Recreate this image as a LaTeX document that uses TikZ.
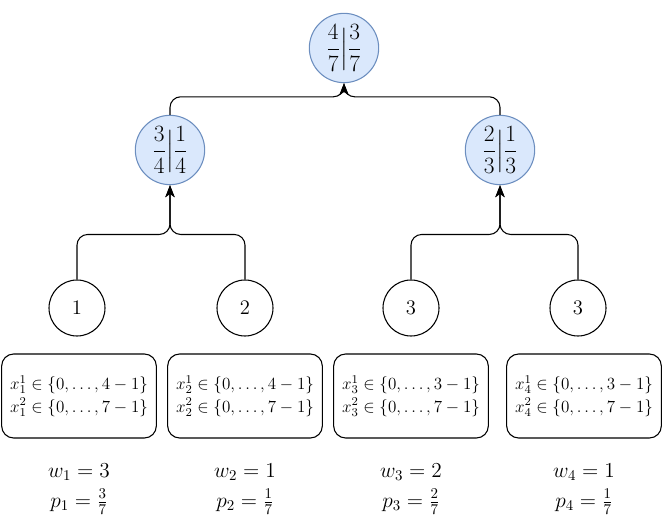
\RequirePackage{fix-cm}
\documentclass[tikz,border=0pt]{standalone}
\usepackage{amsmath}
\usetikzlibrary{arrows.meta}

\definecolor{nodefill}{HTML}{DAE8FC}
\definecolor{nodeline}{HTML}{6C8EBF}

\tikzset{
  every node/.style={font=\fontsize{16}{19}\selectfont},
  ratio/.style={circle, draw=nodeline, fill=nodefill, thick, minimum size=52pt, inner sep=0pt,
    font=\fontsize{17.5}{20}\selectfont},
  leaf/.style={circle, draw, thick, minimum size=42pt, inner sep=0pt, font=\fontsize{15.5}{18}\selectfont},
  varbox/.style={draw, thick, rounded corners=9pt, minimum width=116pt, minimum height=63pt, align=left,
    font=\fontsize{12.8}{16.8}\selectfont},
  link/.style={thick, rounded corners=8pt, -{Stealth[length=9pt, width=7pt, inset=2.5pt]}},
}

\begin{document}
\begin{tikzpicture}[x=0.75pt, y=-0.75pt]
\useasboundingbox (0,0) rectangle (664,531);

% tree of ratios
\node[ratio] (root) at (344,48)  {$\dfrac{4}{7}\Big|\dfrac{3}{7}$};
\node[ratio] (midL) at (170,150) {$\dfrac{3}{4}\Big|\dfrac{1}{4}$};
\node[ratio] (midR) at (500,150) {$\dfrac{2}{3}\Big|\dfrac{1}{3}$};

\node[leaf] (leafA) at (77,308)  {$1$};
\node[leaf] (leafB) at (245,308) {$2$};
\node[leaf] (leafC) at (411,308) {$3$};
\node[leaf] (leafD) at (578,308) {$3$};

\draw[link] (midL.north)  -- ++(0,-18) -| (root.south);
\draw[link] (midR.north)  -- ++(0,-18) -| (root.south);
\draw[link] (leafA.north) -- ++(0,-45) -| (midL.south);
\draw[link] (leafB.north) -- ++(0,-45) -| (midL.south);
\draw[link] (leafC.north) -- ++(0,-45) -| (midR.south);
\draw[link] (leafD.north) -- ++(0,-45) -| (midR.south);

% variable boxes
\node[varbox] (boxA) at (79,396)  {$x_1^1 \in \{0,\ldots,4-1\}$\\$x_1^2 \in \{0,\ldots,7-1\}$};
\node[varbox] (boxB) at (245,396) {$x_2^1 \in \{0,\ldots,4-1\}$\\$x_2^2 \in \{0,\ldots,7-1\}$};
\node[varbox] (boxC) at (411,396) {$x_3^1 \in \{0,\ldots,3-1\}$\\$x_3^2 \in \{0,\ldots,7-1\}$};
\node[varbox] (boxD) at (584,396) {$x_4^1 \in \{0,\ldots,3-1\}$\\$x_4^2 \in \{0,\ldots,7-1\}$};

% weights
\node (wA) at (79,472)  {$w_1 = 3$};
\node (wB) at (245,472) {$w_2 = 1$};
\node (wC) at (411,472) {$w_3 = 2$};
\node (wD) at (584,472) {$w_4 = 1$};
\node (pA) at (79,502)  {$p_1 = \frac{3}{7}$};
\node (pB) at (245,502) {$p_2 = \frac{1}{7}$};
\node (pC) at (411,502) {$p_3 = \frac{2}{7}$};
\node (pD) at (584,502) {$p_4 = \frac{1}{7}$};
\end{tikzpicture}
\end{document}
